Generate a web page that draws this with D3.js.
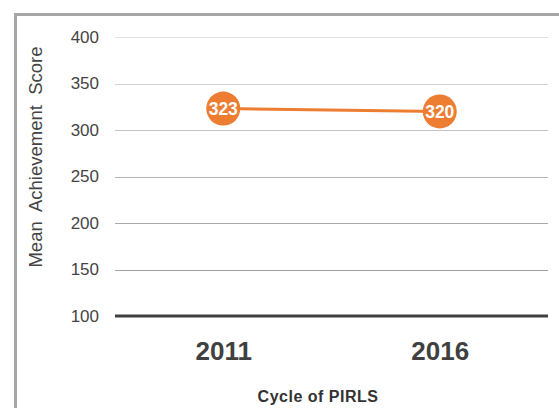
<!DOCTYPE html>
<html>
<head>
<meta charset="utf-8">
<script src="https://cdn.jsdelivr.net/npm/d3@7"></script>
<style>
  body { margin: 0; background: #fff; }
  svg { display: block; font-family: "Liberation Sans", Arial, sans-serif; }
</style>
</head>
<body>
<svg id="chart"></svg>
<script>
// data
var cycles = ["2011", "2016"];
var scores = [323, 320];
var yTicks = [100, 150, 200, 250, 300, 350, 400];

// sizes
var fullWidth = 559;
var fullHeight = 408;
var plot = {left: 115, right: 548, top: 37, bottom: 316};
var orange = "#ED7D31";

var svg = d3.select("#chart")
  .attr("width", fullWidth)
  .attr("height", fullHeight);

// outer frame (runs past the picture on right and bottom)
svg.append("rect")
  .attr("x", 15.5)
  .attr("y", 14.5)
  .attr("width", 600)
  .attr("height", 500)
  .attr("fill", "none")
  .attr("stroke", "#a6a6a6")
  .attr("stroke-width", 3);

var xScale = d3.scalePoint()
  .domain(cycles)
  .range([plot.left, plot.right])
  .padding(0.5);

var yScale = d3.scaleLinear()
  .domain([100, 400])
  .range([plot.bottom, plot.top]);

// gridlines, lighter toward the top as in the original
var gridColor = d3.scaleLinear()
  .domain([150, 250, 400])
  .range(["#a0a0a0", "#b4b4b4", "#e0e0e0"]);

svg.append("g")
  .selectAll("line")
  .data(yTicks.filter(function(t) { return t > 100; }))
  .join("line")
  .attr("x1", plot.left)
  .attr("x2", plot.right)
  .attr("y1", function(d) { return Math.round(yScale(d)) + 0.5; })
  .attr("y2", function(d) { return Math.round(yScale(d)) + 0.5; })
  .attr("stroke", function(d) { return gridColor(d); })
  .attr("stroke-width", 1.2);

// y axis labels
var yAxis = d3.axisLeft(yScale)
  .tickValues(yTicks)
  .tickSize(0)
  .tickPadding(0);

var yAxisG = svg.append("g")
  .attr("transform", "translate(99,0)")
  .call(yAxis);
yAxisG.select(".domain").remove();
yAxisG.selectAll("text")
  .attr("font-size", 17)
  .attr("fill", "#444")
  .attr("font-family", "Liberation Sans, Arial, sans-serif");

// baseline at 100
svg.append("line")
  .attr("x1", plot.left)
  .attr("x2", plot.right)
  .attr("y1", yScale(100))
  .attr("y2", yScale(100))
  .attr("stroke", "#404040")
  .attr("stroke-width", 3);

// x axis labels
var xAxis = d3.axisBottom(xScale).tickSize(0).tickPadding(0);
var xAxisG = svg.append("g")
  .attr("transform", "translate(0,360)")
  .call(xAxis);
xAxisG.select(".domain").remove();
xAxisG.selectAll("text")
  .attr("dy", 0)
  .attr("font-size", 26)
  .attr("font-weight", "bold")
  .attr("fill", "#404040")
  .attr("font-family", "Liberation Sans, Arial, sans-serif");

// axis titles
svg.append("text")
  .attr("x", 318)
  .attr("y", 402)
  .attr("text-anchor", "middle")
  .attr("font-size", 16)
  .attr("font-weight", "bold")
  .attr("fill", "#333")
  .attr("letter-spacing", 0.5)
  .text("Cycle of PIRLS");

svg.append("text")
  .attr("transform", "translate(42,157) rotate(-90)")
  .attr("text-anchor", "middle")
  .attr("font-size", 18.5)
  .attr("fill", "#444")
  .style("white-space", "pre")
  .text("Mean  Achievement  Score");

// the line
var points = cycles.map(function(c, i) { return {cycle: c, score: scores[i]}; });

var line = d3.line()
  .x(function(d) { return xScale(d.cycle); })
  .y(function(d) { return yScale(d.score); });

svg.append("path")
  .datum(points)
  .attr("d", line)
  .attr("fill", "none")
  .attr("stroke", orange)
  .attr("stroke-width", 3);

// markers with labels
var marker = svg.append("g")
  .selectAll("g")
  .data(points)
  .join("g")
  .attr("transform", function(d) {
    return "translate(" + xScale(d.cycle) + "," + yScale(d.score) + ")";
  });

marker.append("circle")
  .attr("r", 17)
  .attr("fill", orange);

marker.append("text")
  .attr("text-anchor", "middle")
  .attr("dy", "0.36em")
  .attr("font-size", 17.5)
  .attr("font-weight", "bold")
  .attr("fill", "#fff")
  .text(function(d) { return d.score; });
</script>
</body>
</html>
